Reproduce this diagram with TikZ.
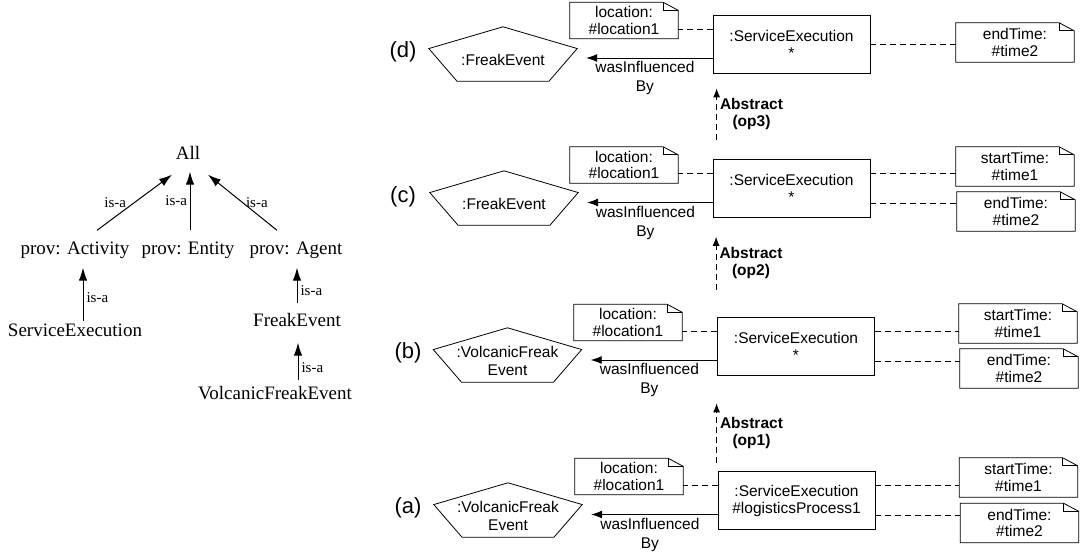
\documentclass[tikz,border=0pt]{standalone}
\usepackage{fontspec}
\setmainfont{Liberation Serif}
\setsansfont{Liberation Sans}
\usetikzlibrary{arrows.meta,calc}

% pentagon drawn round an event node, note with folded corner
\newcommand{\pentof}[1]{\draw[line width=0.8pt] ($(#1.north west)!0.4!(#1.south west)+(0,-6)$) -- ($(#1.north)+(0,-6)$) -- ($(#1.north east)!0.4!(#1.south east)+(0,-6)$) -- ($(#1.south west)!0.81!(#1.south east)+(0,-6)$) -- ($(#1.south west)!0.19!(#1.south east)+(0,-6)$) -- cycle;}
\newcommand{\noteof}[1]{\draw[line width=0.8pt] (#1.south west) -- (#1.north west) -- ([xshift=-15pt]#1.north east) -- ([yshift=-8pt]#1.north east) -- (#1.south east) -- cycle;
	\draw[line width=0.8pt] ([xshift=-15pt]#1.north east) -- ([xshift=-15pt,yshift=-8pt]#1.north east) -- ([yshift=-8pt]#1.north east);}

\begin{document}
\begin{tikzpicture}[x=1pt,y=-1pt,
	tree/.style={font=\fontsize{19}{19}\selectfont, text height=13pt, text depth=4pt},
	isa/.style={font=\fontsize{15}{15}\selectfont},
	isarrow/.style={-{Latex[length=13pt,width=8.5pt]}, line width=1pt},
	plabel/.style={font=\sffamily\fontsize{22}{22}\selectfont},
	evt/.style={minimum width=148pt, minimum height=54pt, align=center, font=\sffamily\fontsize{15.5}{17.5}\selectfont},
	note/.style={minimum width=108pt, minimum height=36pt, align=center, font=\sffamily\fontsize{15.5}{16.5}\selectfont},
	tnote/.style={note, minimum width=118pt, minimum height=39pt},
	sebox/.style={draw, line width=0.8pt, minimum width=157pt, minimum height=58pt, align=center, font=\sffamily\fontsize{15.5}{17}\selectfont},
	conn/.style={line width=0.8pt, dash pattern=on 6pt off 4pt},
	infl/.style={-{Latex[length=11pt,width=8pt]}, line width=0.9pt, shorten >=9pt},
	inflab/.style={below=3pt, align=center, font=\sffamily\fontsize{15.5}{19}\selectfont},
	abst/.style={-{Latex[length=9pt,width=7pt]}, line width=0.9pt, dash pattern=on 6pt off 4pt},
	abslab/.style={right=3pt, align=center, font=\sffamily\bfseries\fontsize{15.5}{17}\selectfont}]
	\tikzstyle{every node}+=[inner sep=0pt]
	\useasboundingbox (0,0) rectangle (1080,552);

	% is-a hierarchy
	\node[tree] (all) at (188,155) {All};
	\node[tree] (act) at (75,250) {prov: Activity};
	\node[tree] (ent) at (188,250) {prov: Entity};
	\node[tree] (agt) at (296,250) {prov: Agent};
	\node[tree] (sex) at (75,332) {ServiceExecution};
	\node[tree] (fev) at (297,322) {FreakEvent};
	\node[tree] (vfe) at (275,395) {VolcanicFreakEvent};
	\draw[isarrow] ($(act.north)+(22,-11)$) -- ($(all.south)+(-16,11)$) node[midway, left=8pt, isa] {is-a};
	\draw[isarrow] ($(ent.north)+(2,-11)$) -- ($(all.south)+(2,8)$) node[midway, left=2.5pt, isa] {is-a};
	\draw[isarrow] ($(agt.north)+(-19,-11)$) -- ($(all.south)+(20,11)$) node[midway, right=3pt, isa] {is-a};
	\draw[isarrow] ($(sex.north)+(8,-2)$) -- ($(act.south)+(8,9)$) node[pos=0.45, right=3pt, isa] {is-a};
	\draw[isarrow] ($(fev.north)+(0,-10)$) -- ($(agt.south)+(1,9)$) node[pos=0.35, right=3pt, isa] {is-a};
	\draw[isarrow] ($(vfe.north)+(23,-6)$) -- ($(fev.south)+(1,12)$) node[pos=0.35, right=3pt, isa] {is-a};

	% (d)
	\node[plabel] (pd) at (403,52) {(d)};
	\node[evt] (evd) at (503,60) {:FreakEvent};
	\pentof{evd}
	\node[note] (locd) at (624,20.5) {location:\\\#location1};
	\noteof{locd}
	\node[sebox] (boxd) at (791.5,44) {:ServiceExecution\\*};
	\node[tnote] (endd) at (1015,42.5) {endTime:\\\#time2};
	\noteof{endd}
	\draw[conn] ([yshift=15pt]boxd.west) -- ([yshift=15pt]boxd.west -| locd.east);
	\draw[conn] (boxd.east) -- (boxd.east -| endd.west);
	\draw[infl] ([yshift=-14pt]boxd.west) -- ([yshift=-14pt]boxd.west -| evd.east) node[midway, inflab] {wasInfluenced\\By};

	% (c)
	\node[plabel] (pc) at (403,197) {(c)};
	\node[evt] (evc) at (504,204) {:FreakEvent};
	\pentof{evc}
	\node[note] (locc) at (624,165) {location:\\\#location1};
	\noteof{locc}
	\node[sebox] (boxc) at (791.5,188.5) {:ServiceExecution\\*};
	\node[tnote] (stc) at (1015,166.5) {startTime:\\\#time1};
	\noteof{stc}
	\node[tnote] (enc) at (1016,211.5) {endTime:\\\#time2};
	\noteof{enc}
	\draw[conn] ([yshift=15pt]boxc.west) -- ([yshift=15pt]boxc.west -| locc.east);
	\draw[conn] ([yshift=15pt]boxc.east) -- ([yshift=15pt]boxc.east -| stc.west);
	\draw[conn] ([yshift=-15pt]boxc.east) -- ([yshift=-15pt]boxc.east -| enc.west);
	\draw[infl] ([yshift=-14pt]boxc.west) -- ([yshift=-14pt]boxc.west -| evc.east) node[midway, inflab] {wasInfluenced\\By};

	% (b)
	\node[plabel] (pb) at (408,353) {(b)};
	\node[evt] (evb) at (507.5,361) {:VolcanicFreak\\Event};
	\pentof{evb}
	\node[note] (locb) at (628,322.5) {location:\\\#location1};
	\noteof{locb}
	\node[sebox] (boxb) at (796,346) {:ServiceExecution\\*};
	\node[tnote] (stb) at (1018,323.5) {startTime:\\\#time1};
	\noteof{stb}
	\node[tnote] (enb) at (1019,368.5) {endTime:\\\#time2};
	\noteof{enb}
	\draw[conn] ([yshift=15pt]boxb.west) -- ([yshift=15pt]boxb.west -| locb.east);
	\draw[conn] ([yshift=15pt]boxb.east) -- ([yshift=15pt]boxb.east -| stb.west);
	\draw[conn] ([yshift=-15pt]boxb.east) -- ([yshift=-15pt]boxb.east -| enb.west);
	\draw[infl] ([yshift=-14pt]boxb.west) -- ([yshift=-14pt]boxb.west -| evb.east) node[midway, inflab] {wasInfluenced\\By};

	% (a)
	\node[plabel] (pa) at (408,508) {(a)};
	\node[evt] (eva) at (508,516) {:VolcanicFreak\\Event};
	\pentof{eva}
	\node[note] (loca) at (629,476.5) {location:\\\#location1};
	\noteof{loca}
	\node[sebox] (boxa) at (796.5,500.5) {:ServiceExecution\\\#logisticsProcess1};
	\node[tnote] (sta) at (1018.5,477.5) {startTime:\\\#time1};
	\noteof{sta}
	\node[tnote] (ena) at (1019.5,523) {endTime:\\\#time2};
	\noteof{ena}
	\draw[conn] ([yshift=15pt]boxa.west) -- ([yshift=15pt]boxa.west -| loca.east);
	\draw[conn] ([yshift=15pt]boxa.east) -- ([yshift=15pt]boxa.east -| sta.west);
	\draw[conn] ([yshift=-15pt]boxa.east) -- ([yshift=-15pt]boxa.east -| ena.west);
	\draw[infl] ([yshift=-14pt]boxa.west) -- ([yshift=-14pt]boxa.west -| eva.east) node[midway, inflab] {wasInfluenced\\By};

	% abstraction steps
	\draw[abst] ([xshift=-1pt,yshift=8pt]boxa.north west) coordinate (o1) -- ([yshift=-28pt]o1 |- boxb.south) node[midway, abslab] {Abstract\\(op1)};
	\draw[abst] ([xshift=-1pt,yshift=27pt]boxb.north west) coordinate (o2) -- ([yshift=-19pt]o2 |- boxc.south) node[midway, abslab] {Abstract\\(op2)};
	\draw[abst] ([xshift=4pt,yshift=19pt]boxc.north west) coordinate (o3) -- ([yshift=-15pt]o3 |- boxd.south) node[midway, abslab] {Abstract\\(op3)};
\end{tikzpicture}
\end{document}
